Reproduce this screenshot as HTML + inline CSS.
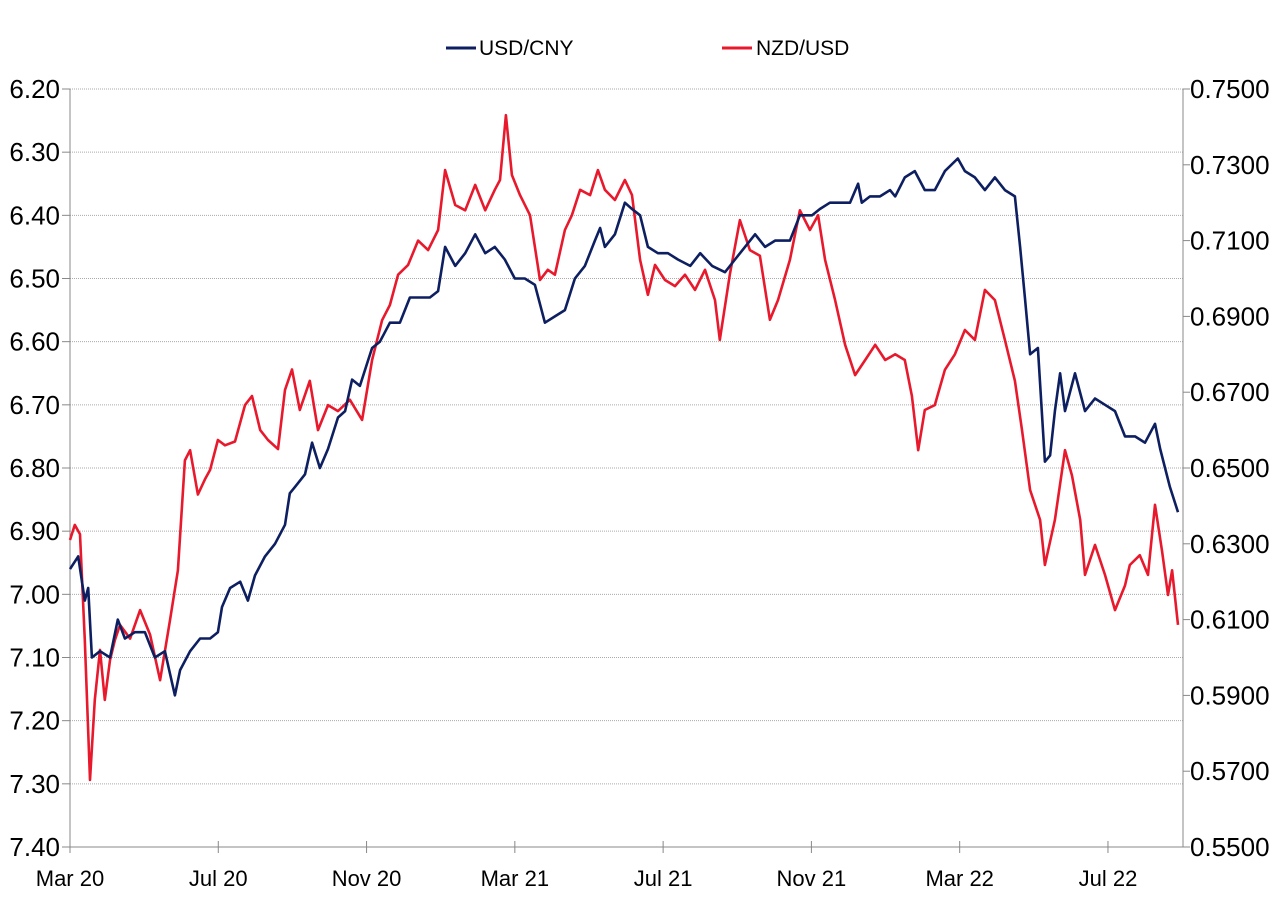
<!DOCTYPE html>
<html><head><meta charset="utf-8"><style>
body{margin:0;background:#fff}
svg text{font-family:"Liberation Sans",sans-serif;font-size:21px;fill:#000}
svg text.yl{font-size:26px}
svg text.xl{font-size:22px}
</style></head><body>
<svg id="chart" width="1280" height="896">
<g>
<line x1="446" y1="48" x2="476" y2="48" stroke="#0d1f60" stroke-width="3"/>
<text x="479" y="55">USD/CNY</text>
<line x1="722" y1="48" x2="752" y2="48" stroke="#e8192c" stroke-width="3"/>
<text x="756" y="55">NZD/USD</text>
</g>
<g id="grid"></g>
<g id="axes"></g>
<g id="series"></g>
</svg>
<script>
const leftTicks=[6.2,6.3,6.4,6.5,6.6,6.7,6.8,6.9,7.0,7.1,7.2,7.3,7.4];
const rightTicks=[0.75,0.73,0.71,0.69,0.67,0.65,0.63,0.61,0.59,0.57,0.55];
const xTickLabels=["Mar 20","Jul 20","Nov 20","Mar 21","Jul 21","Nov 21","Mar 22","Jul 22"];
const xTickMonths=[0,4,8,12,16,20,24,28];
const usdT=[0,.22,.40,.49,.59,.81,1.08,1.29,1.48,1.75,2.02,2.29,2.56,2.83,2.97,3.24,3.51,3.78,3.99,4.10,4.32,4.59,4.80,4.99,5.26,5.53,5.80,5.93,6.07,6.34,6.53,6.74,6.96,7.23,7.42,7.61,7.82,8.04,8.15,8.36,8.63,8.90,9.17,9.44,9.71,9.93,10.12,10.39,10.66,10.93,11.20,11.46,11.73,12.00,12.27,12.54,12.81,13.08,13.35,13.62,13.89,14.16,14.30,14.43,14.70,14.97,15.16,15.38,15.59,15.86,16.13,16.40,16.73,17.00,17.32,17.67,17.94,18.21,18.48,18.75,19.02,19.42,19.69,20.02,20.23,20.50,20.77,21.04,21.26,21.36,21.58,21.85,22.12,22.26,22.52,22.79,23.06,23.33,23.60,23.95,24.14,24.41,24.68,24.95,25.22,25.49,25.63,25.76,25.90,26.11,26.30,26.44,26.57,26.71,26.84,27.11,27.38,27.65,27.92,28.19,28.46,28.73,29.00,29.27,29.41,29.67,29.89];
const usdV=[6.96,6.94,7.01,6.99,7.10,7.09,7.10,7.04,7.07,7.06,7.06,7.10,7.09,7.16,7.12,7.09,7.07,7.07,7.06,7.02,6.99,6.98,7.01,6.97,6.94,6.92,6.89,6.84,6.83,6.81,6.76,6.80,6.77,6.72,6.71,6.66,6.67,6.63,6.61,6.60,6.57,6.57,6.53,6.53,6.53,6.52,6.45,6.48,6.46,6.43,6.46,6.45,6.47,6.50,6.50,6.51,6.57,6.56,6.55,6.50,6.48,6.44,6.42,6.45,6.43,6.38,6.39,6.40,6.45,6.46,6.46,6.47,6.48,6.46,6.48,6.49,6.47,6.45,6.43,6.45,6.44,6.44,6.40,6.40,6.39,6.38,6.38,6.38,6.35,6.38,6.37,6.37,6.36,6.37,6.34,6.33,6.36,6.36,6.33,6.31,6.33,6.34,6.36,6.34,6.36,6.37,6.45,6.53,6.62,6.61,6.79,6.78,6.71,6.65,6.71,6.65,6.71,6.69,6.70,6.71,6.75,6.75,6.76,6.73,6.77,6.83,6.87];
const nzdT=[0,.13,.27,.40,.54,.67,.81,.94,1.08,1.21,1.35,1.62,1.89,2.16,2.43,2.70,2.91,3.10,3.24,3.45,3.64,3.78,3.99,4.18,4.45,4.72,4.91,5.13,5.34,5.61,5.80,5.99,6.20,6.47,6.69,6.96,7.23,7.55,7.88,8.15,8.42,8.63,8.85,9.12,9.39,9.66,9.93,10.12,10.39,10.66,10.93,11.20,11.46,11.60,11.76,11.92,12.14,12.41,12.68,12.89,13.08,13.35,13.54,13.76,14.03,14.24,14.43,14.70,14.97,15.16,15.38,15.59,15.78,16.05,16.32,16.59,16.86,17.13,17.40,17.53,17.80,18.07,18.34,18.61,18.88,19.10,19.42,19.69,19.96,20.18,20.37,20.64,20.91,21.18,21.45,21.72,21.99,22.26,22.52,22.71,22.88,23.06,23.33,23.60,23.87,24.14,24.41,24.68,24.95,25.22,25.49,25.68,25.90,26.17,26.30,26.57,26.84,27.03,27.25,27.38,27.65,27.92,28.19,28.46,28.59,28.86,29.08,29.27,29.46,29.62,29.73,29.89];
const nzdV=[.6310,.6350,.6325,.6046,.5677,.5888,.6020,.5888,.5993,.6046,.6086,.6050,.6125,.6060,.5940,.6100,.6230,.6520,.6547,.6430,.6470,.6495,.6574,.6560,.6570,.6666,.6690,.6600,.6574,.6550,.6706,.6760,.6653,.6730,.6600,.6666,.6650,.6680,.6627,.6785,.6890,.6930,.7010,.7036,.7100,.7075,.7128,.7286,.7194,.7180,.7247,.7180,.7234,.7260,.7431,.7273,.7220,.7167,.6996,.7023,.7010,.7128,.7167,.7234,.7220,.7286,.7234,.7207,.7260,.7220,.7049,.6957,.7036,.6996,.6980,.7010,.6970,.7023,.6943,.6838,.7010,.7154,.7075,.7060,.6891,.6943,.7049,.7180,.7128,.7167,.7049,.6943,.6825,.6745,.6785,.6825,.6785,.6800,.6785,.6690,.6547,.6653,.6666,.6759,.6800,.6864,.6838,.6970,.6943,.6838,.6730,.6600,.6442,.6363,.6244,.6363,.6547,.6480,.6363,.6218,.6297,.6218,.6125,.6190,.6244,.6270,.6218,.6403,.6280,.6165,.6230,.6086];

const X0=70,X1=1183,Y0=89,Y1=847,PXM=37.07;
const xS=t=>X0+t*PXM;
const yL=v=>Y0+(v-6.2)/(7.4-6.2)*(Y1-Y0);
const yR=v=>Y0+(0.75-v)/(0.75-0.55)*(Y1-Y0);
const NS="http://www.w3.org/2000/svg";
function mk(tag,attrs,parent,txt){const e=document.createElementNS(NS,tag);for(const k in attrs)e.setAttribute(k,attrs[k]);if(txt!==undefined)e.textContent=txt;parent.appendChild(e);return e;}
const grid=document.getElementById('grid'),axes=document.getElementById('axes'),ser=document.getElementById('series');
leftTicks.forEach(v=>{const y=yL(v);
 if(v<7.4){const g=mk('line',{x1:X0,x2:X1,y1:y,y2:y,stroke:'#aaa','stroke-width':1,'stroke-dasharray':'1,1'},grid);
 
 }
 const t=mk('line',{x1:62,x2:X0,y1:y,y2:y,stroke:'#888'},axes);
 
 
 const l=mk('text',{x:60,y:y+9,'text-anchor':'end','class':'yl'},axes,v.toFixed(2));
 
 
});
rightTicks.forEach(v=>{const y=yR(v);
 const t=mk('line',{x1:X1,x2:X1+7,y1:y,y2:y,stroke:'#888'},axes);
 
 
 const l=mk('text',{x:1190,y:y+9,'class':'yl'},axes,v.toFixed(4));
 
 
});
xTickMonths.forEach((m,i)=>{const x=xS(m);
 const t=mk('line',{x1:x,x2:x,y1:Y1-6,y2:Y1+6,stroke:'#888'},axes);
 
 
 const l=mk('text',{x:x,y:886,'text-anchor':'middle','class':'xl'},axes,xTickLabels[i]);
 
 
});
[[X0,Y0,X0,Y1],[X1,Y0,X1,Y1],[X0,Y1,X1,Y1]].forEach(a=>{const e=mk('line',{x1:a[0],y1:a[1],x2:a[2],y2:a[3],stroke:'#888'},axes);
 
 });
const pNZ=mk('path',{d:nzdT.map((t,i)=>(i?'L':'M')+xS(t).toFixed(1)+','+yR(nzdV[i]).toFixed(1)).join(''),fill:'none',stroke:'#e8192c','stroke-width':2.6,'stroke-linejoin':'round'},ser);


const pUS=mk('path',{d:usdT.map((t,i)=>(i?'L':'M')+xS(t).toFixed(1)+','+yL(usdV[i]).toFixed(1)).join(''),fill:'none',stroke:'#0d1f60','stroke-width':2.6,'stroke-linejoin':'round'},ser);


</script>
</body></html>
